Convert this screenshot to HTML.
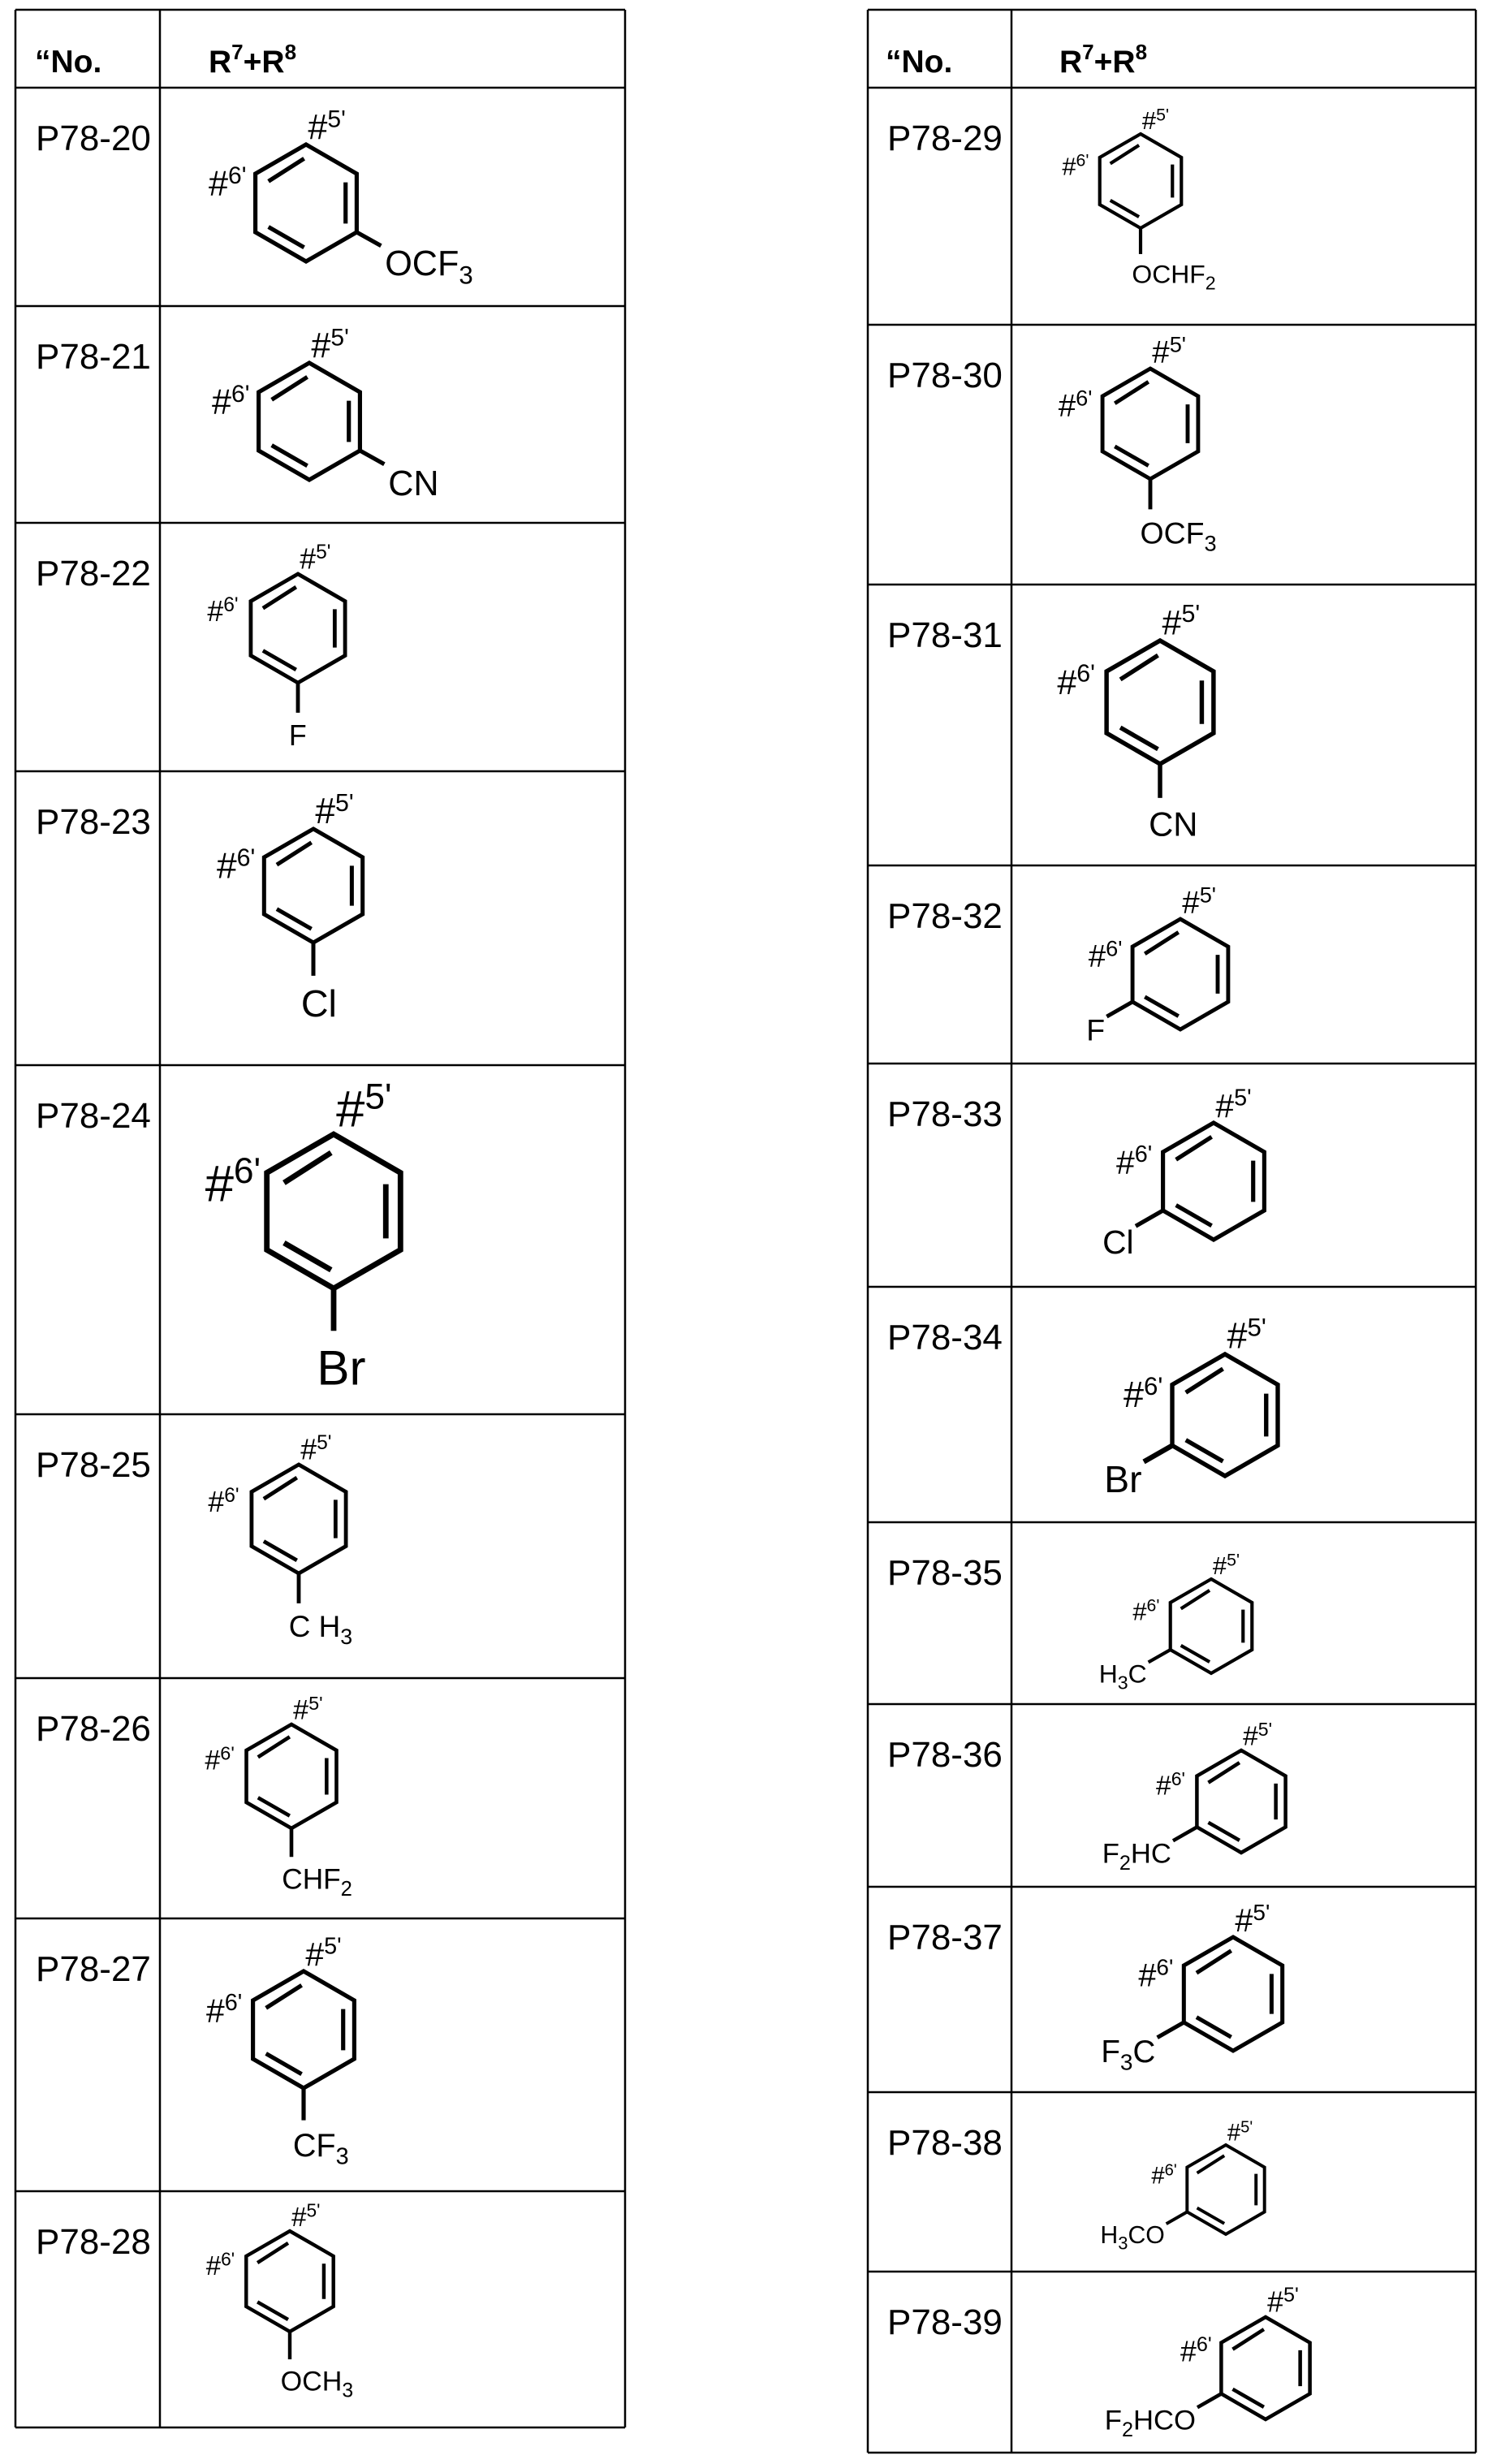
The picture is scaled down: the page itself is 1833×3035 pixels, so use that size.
<!DOCTYPE html>
<html><head><meta charset="utf-8"><style>
html,body{margin:0;padding:0;background:#fff}
svg{display:block}
.s path{stroke:#000;fill:none;stroke-width:4.3;stroke-linejoin:miter;stroke-linecap:butt}
text{font-family:"Liberation Sans",Arial,sans-serif;fill:#000;stroke:none}
.g line{stroke:#000;stroke-width:2.5}
</style></head><body>
<svg width="1833" height="3035" viewBox="0 0 1833 3035" xmlns="http://www.w3.org/2000/svg">
<defs>
<path id="ring" fill="none" stroke="#000" stroke-width="4.3" d="M0,-60L52,-30L52,30L0,60L-52,30L-52,-30Z M-38.6,-22.2L-2,-45.6 M40.6,-21.1L40.6,21.1 M-38.6,24.6L-2,45.6"/>
</defs>
<g class="g">
<line x1="19" y1="12" x2="770" y2="12"/><line x1="19" y1="2990" x2="770" y2="2990"/>
<line x1="19" y1="12" x2="19" y2="2990"/><line x1="197" y1="12" x2="197" y2="2990"/><line x1="770" y1="12" x2="770" y2="2990"/>
<line x1="19" y1="108" x2="770" y2="108"/><line x1="19" y1="377" x2="770" y2="377"/><line x1="19" y1="644" x2="770" y2="644"/><line x1="19" y1="950" x2="770" y2="950"/><line x1="19" y1="1312" x2="770" y2="1312"/><line x1="19" y1="1742" x2="770" y2="1742"/><line x1="19" y1="2067" x2="770" y2="2067"/><line x1="19" y1="2363" x2="770" y2="2363"/><line x1="19" y1="2699" x2="770" y2="2699"/>
<line x1="1069" y1="12" x2="1818" y2="12"/><line x1="1069" y1="3021" x2="1818" y2="3021"/>
<line x1="1069" y1="12" x2="1069" y2="3021"/><line x1="1246" y1="12" x2="1246" y2="3021"/><line x1="1818" y1="12" x2="1818" y2="3021"/>
<line x1="1069" y1="108" x2="1818" y2="108"/><line x1="1069" y1="400" x2="1818" y2="400"/><line x1="1069" y1="720" x2="1818" y2="720"/><line x1="1069" y1="1066" x2="1818" y2="1066"/><line x1="1069" y1="1310" x2="1818" y2="1310"/><line x1="1069" y1="1585" x2="1818" y2="1585"/><line x1="1069" y1="1875" x2="1818" y2="1875"/><line x1="1069" y1="2099" x2="1818" y2="2099"/><line x1="1069" y1="2324" x2="1818" y2="2324"/><line x1="1069" y1="2577" x2="1818" y2="2577"/><line x1="1069" y1="2798" x2="1818" y2="2798"/>
</g>
<g font-weight="bold" font-size="39">
<text x="43" y="89">“No.</text><text x="257" y="89">R<tspan font-size="26" dy="-16">7</tspan><tspan dy="16">+R</tspan><tspan font-size="26" dy="-16">8</tspan></text>
<text x="1091" y="89">“No.</text><text x="1305" y="89">R<tspan font-size="26" dy="-16">7</tspan><tspan dy="16">+R</tspan><tspan font-size="26" dy="-16">8</tspan></text>
</g>
<g font-size="44">
<text x="44" y="185">P78-20</text><text x="44" y="454">P78-21</text><text x="44" y="721">P78-22</text><text x="44" y="1027">P78-23</text><text x="44" y="1389">P78-24</text><text x="44" y="1819">P78-25</text><text x="44" y="2144">P78-26</text><text x="44" y="2440">P78-27</text><text x="44" y="2776">P78-28</text>
<text x="1093" y="185">P78-29</text><text x="1093" y="477">P78-30</text><text x="1093" y="797">P78-31</text><text x="1093" y="1143">P78-32</text><text x="1093" y="1387">P78-33</text><text x="1093" y="1662">P78-34</text><text x="1093" y="1952">P78-35</text><text x="1093" y="2176">P78-36</text><text x="1093" y="2401">P78-37</text><text x="1093" y="2654">P78-38</text><text x="1093" y="2875">P78-39</text>
</g>

<!-- P78-20 -->
<g class="s" transform="translate(377,250) scale(1.2)"><use href="#ring"/>
<text x="2" y="-66" font-size="36">#<tspan font-size="25" dy="-12">5'</tspan></text><text x="-100" y="-8" font-size="36">#<tspan font-size="25" dy="-12">6'</tspan></text>
<path d="M52,30L77,44"/><text x="81" y="74" font-size="36">OCF<tspan font-size="26" dy="9">3</tspan></text></g>
<!-- P78-21 -->
<g class="s" transform="translate(381,519) scale(1.2)"><use href="#ring"/>
<text x="2" y="-66" font-size="36">#<tspan font-size="25" dy="-12">5'</tspan></text><text x="-100" y="-8" font-size="36">#<tspan font-size="25" dy="-12">6'</tspan></text>
<path d="M52,30L77,44"/><text x="81" y="76" font-size="36">CN</text></g>
<!-- P78-22 -->
<g class="s" transform="translate(367,774) scale(1.117)"><use href="#ring"/>
<text x="2" y="-66" font-size="32">#<tspan font-size="22" dy="-11">5'</tspan></text><text x="-100" y="-8" font-size="32">#<tspan font-size="22" dy="-11">6'</tspan></text>
<path d="M0,60L0,93"/><text x="-10" y="129" font-size="32">F</text></g>
<!-- P78-23 -->
<g class="s" transform="translate(386,1091) scale(1.167)"><use href="#ring"/>
<text x="2" y="-66" font-size="38">#<tspan font-size="26" dy="-13">5'</tspan></text><text x="-102" y="-8" font-size="38">#<tspan font-size="26" dy="-13">6'</tspan></text>
<path d="M0,60L0,95"/><text x="-13" y="138" font-size="40">Cl</text></g>
<!-- P78-24 -->
<g class="s" transform="translate(411,1492) scale(1.583)"><use href="#ring"/>
<text x="2" y="-66" font-size="40">#<tspan font-size="28" dy="-14">5'</tspan></text><text x="-100" y="-8" font-size="40">#<tspan font-size="28" dy="-14">6'</tspan></text>
<path d="M0,60L0,93"/><text x="-13" y="135" font-size="38">Br</text></g>
<!-- P78-25 -->
<g class="s" transform="translate(368,1871) scale(1.117)"><use href="#ring"/>
<text x="2" y="-66" font-size="32">#<tspan font-size="22" dy="-11">5'</tspan></text><text x="-100" y="-8" font-size="32">#<tspan font-size="22" dy="-11">6'</tspan></text>
<path d="M0,60L0,93"/><text x="-11" y="130" font-size="33">C H<tspan font-size="24" dy="8">3</tspan></text></g>
<!-- P78-26 -->
<g class="s" transform="translate(359,2188) scale(1.067)"><use href="#ring"/>
<text x="2" y="-66" font-size="32">#<tspan font-size="22" dy="-11">5'</tspan></text><text x="-100" y="-8" font-size="32">#<tspan font-size="22" dy="-11">6'</tspan></text>
<path d="M0,60L0,93"/><text x="-11" y="130" font-size="33">CHF<tspan font-size="24" dy="8">2</tspan></text></g>
<!-- P78-27 -->
<g class="s" transform="translate(374,2500) scale(1.2)"><use href="#ring"/>
<text x="2" y="-66" font-size="34">#<tspan font-size="24" dy="-12">5'</tspan></text><text x="-100" y="-8" font-size="34">#<tspan font-size="24" dy="-12">6'</tspan></text>
<path d="M0,60L0,93"/><text x="-11" y="130" font-size="33">CF<tspan font-size="24" dy="8">3</tspan></text></g>
<!-- P78-28 -->
<g class="s" transform="translate(357,2810) scale(1.033)"><use href="#ring"/>
<text x="2" y="-66" font-size="32">#<tspan font-size="22" dy="-11">5'</tspan></text><text x="-100" y="-8" font-size="32">#<tspan font-size="22" dy="-11">6'</tspan></text>
<path d="M0,60L0,93"/><text x="-11" y="130" font-size="33">OCH<tspan font-size="24" dy="8">3</tspan></text></g>

<!-- P78-29 -->
<g class="s" transform="translate(1405,223) scale(0.967)"><use href="#ring"/>
<text x="2" y="-66" font-size="32">#<tspan font-size="22" dy="-11">5'</tspan></text><text x="-100" y="-8" font-size="32">#<tspan font-size="22" dy="-11">6'</tspan></text>
<path d="M0,60L0,93"/><text x="-11" y="130" font-size="33">OCHF<tspan font-size="24" dy="8">2</tspan></text></g>
<!-- P78-30 -->
<g class="s" transform="translate(1417,522) scale(1.133)"><use href="#ring"/>
<text x="2" y="-66" font-size="34">#<tspan font-size="24" dy="-12">5'</tspan></text><text x="-100" y="-8" font-size="34">#<tspan font-size="24" dy="-12">6'</tspan></text>
<path d="M0,60L0,93"/><text x="-11" y="130" font-size="33">OCF<tspan font-size="24" dy="8">3</tspan></text></g>
<!-- P78-31 -->
<g class="s" transform="translate(1429,865) scale(1.267)"><use href="#ring"/>
<text x="2" y="-66" font-size="34">#<tspan font-size="24" dy="-12">5'</tspan></text><text x="-100" y="-8" font-size="34">#<tspan font-size="24" dy="-12">6'</tspan></text>
<path d="M0,60L0,93"/><text x="-11" y="130" font-size="33">CN</text></g>
<!-- P78-32 -->
<g class="s" transform="translate(1454,1200) scale(1.133)"><use href="#ring"/>
<text x="2" y="-66" font-size="34">#<tspan font-size="24" dy="-12">5'</tspan></text><text x="-100" y="-8" font-size="34">#<tspan font-size="24" dy="-12">6'</tspan></text>
<path d="M-52,30L-80,46"/><text x="-82" y="72" font-size="33" text-anchor="end">F</text></g>
<!-- P78-33 -->
<g class="s" transform="translate(1495,1455) scale(1.2)"><use href="#ring"/>
<text x="2" y="-66" font-size="34">#<tspan font-size="24" dy="-12">5'</tspan></text><text x="-100" y="-8" font-size="34">#<tspan font-size="24" dy="-12">6'</tspan></text>
<path d="M-52,30L-80,46"/><text x="-82" y="74" font-size="34" text-anchor="end">Cl</text></g>
<!-- P78-34 -->
<g class="s" transform="translate(1509,1743) scale(1.25)"><use href="#ring" stroke-width="5"/>
<text x="2" y="-66" font-size="36">#<tspan font-size="25" dy="-12">5'</tspan></text><text x="-100" y="-8" font-size="36">#<tspan font-size="25" dy="-12">6'</tspan></text>
<path d="M-52,30L-80,46" style="stroke-width:5"/><text x="-82" y="76" font-size="37" text-anchor="end">Br</text></g>
<!-- P78-35 -->
<g class="s" transform="translate(1492,2003) scale(0.967)"><use href="#ring"/>
<text x="2" y="-66" font-size="32">#<tspan font-size="22" dy="-11">5'</tspan></text><text x="-100" y="-8" font-size="32">#<tspan font-size="22" dy="-11">6'</tspan></text>
<path d="M-52,30L-80,46"/><text x="-82" y="72" font-size="33" text-anchor="end">H<tspan font-size="24" dy="8">3</tspan><tspan dy="-8">C</tspan></text></g>
<!-- P78-36 -->
<g class="s" transform="translate(1529,2219) scale(1.05)"><use href="#ring"/>
<text x="2" y="-66" font-size="32">#<tspan font-size="22" dy="-11">5'</tspan></text><text x="-100" y="-8" font-size="32">#<tspan font-size="22" dy="-11">6'</tspan></text>
<path d="M-52,30L-80,46"/><text x="-82" y="72" font-size="33" text-anchor="end">F<tspan font-size="24" dy="8">2</tspan><tspan dy="-8">HC</tspan></text></g>
<!-- P78-37 -->
<g class="s" transform="translate(1519,2456) scale(1.167)"><use href="#ring"/>
<text x="2" y="-66" font-size="34">#<tspan font-size="24" dy="-12">5'</tspan></text><text x="-100" y="-8" font-size="34">#<tspan font-size="24" dy="-12">6'</tspan></text>
<path d="M-52,30L-80,46"/><text x="-82" y="72" font-size="33" text-anchor="end">F<tspan font-size="24" dy="8">3</tspan><tspan dy="-8">C</tspan></text></g>
<!-- P78-38 -->
<g class="s" transform="translate(1510,2697) scale(0.917)"><use href="#ring"/>
<text x="2" y="-66" font-size="32">#<tspan font-size="22" dy="-11">5'</tspan></text><text x="-100" y="-8" font-size="32">#<tspan font-size="22" dy="-11">6'</tspan></text>
<path d="M-52,30L-80,46"/><text x="-82" y="72" font-size="33" text-anchor="end">H<tspan font-size="24" dy="8">3</tspan><tspan dy="-8">CO</tspan></text></g>
<!-- P78-39 -->
<g class="s" transform="translate(1559,2917) scale(1.05)"><use href="#ring"/>
<text x="2" y="-66" font-size="34">#<tspan font-size="24" dy="-12">5'</tspan></text><text x="-100" y="-8" font-size="34">#<tspan font-size="24" dy="-12">6'</tspan></text>
<path d="M-52,30L-80,46"/><text x="-82" y="72" font-size="33" text-anchor="end">F<tspan font-size="24" dy="8">2</tspan><tspan dy="-8">HCO</tspan></text></g>
</svg>
</body></html>
